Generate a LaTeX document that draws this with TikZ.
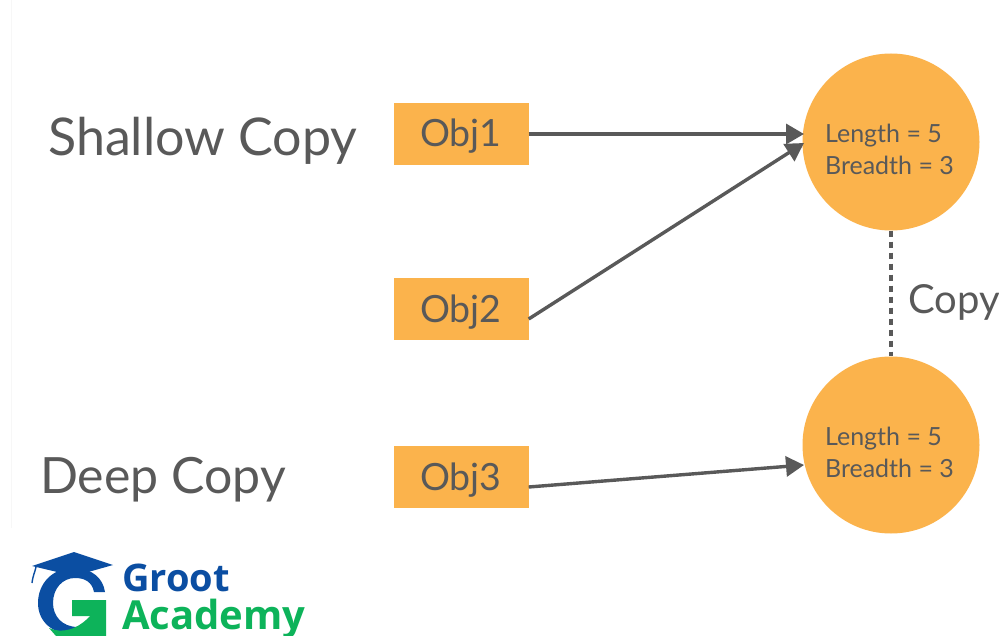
\documentclass[tikz,border=0pt]{standalone}
\usepackage{fontspec}
\setmainfont{Lato}
\newfontfamily\logofont{Open Sans}
\usetikzlibrary{arrows.meta}
\definecolor{orangefill}{HTML}{FBB34C}
\definecolor{inkgrey}{HTML}{595959}
\definecolor{logoblue}{HTML}{0B4EA2}
\definecolor{logogreen}{HTML}{0DB35A}
\tikzset{
  objbox/.style={fill=orangefill,minimum width=135pt,minimum height=62pt,inner sep=0pt,text=inkgrey,font=\fontsize{37.5}{37.5}\selectfont},
  circ/.style={circle,fill=orangefill,minimum size=177pt,inner sep=0pt},
  circtext/.style={text=inkgrey,inner sep=0pt,font=\fontsize{25}{32}\selectfont,align=left},
  lbl/.style={text=inkgrey,inner sep=0pt,anchor=west},
  conn/.style={draw=inkgrey,line width=3.4pt,-{Triangle[length=18pt,width=20pt]}},
}
\begin{document}
\begin{tikzpicture}[x=1pt,y=-1pt]
\useasboundingbox (0,0) rectangle (999,636);
\clip (0,0) rectangle (999,636);
\fill[white] (0,0) rectangle (999,636);
\draw[black!3,line width=0.8pt] (11,0) -- (11,528);
\node[objbox] (o1) at (461,134.5) {\raisebox{-12.5pt}[0pt][0pt]{Obj1}};
\node[objbox] (o2) at (461,309) {\raisebox{-14pt}[0pt][0pt]{Obj2}};
\node[objbox] (o3) at (461,476.5) {\raisebox{-13.5pt}[0pt][0pt]{Obj3}};
\node[circ] (c1) at (891,142) {};
\node[circ] (c2) at (891,445) {};
\node[circtext] (c1t) at (889.5,149) {Length = 5\\Breadth = 3};
\node[circtext] (c2t) at (889.5,452) {Length = 5\\Breadth = 3};
\coordinate (t1) at (804,134);
\coordinate (t2) at (804,143);
\coordinate (t3) at (804,465);
\draw[conn] (o1.east |- 0,134) -- (t1);
\draw[conn] (o2.east |- 0,319) -- (t2);
\draw[conn] (o3.east |- 0,487) -- (t3);
\draw[inkgrey,line width=3.4pt,dash pattern=on 6pt off 5pt] (c1.south) -- (c2.north);
\node[lbl,font=\fontsize{52}{52}\selectfont] (s) at (48,141) {Shallow Copy};
\node[lbl,font=\fontsize{50}{50}\selectfont] (d) at (40,480) {Deep Copy};
\node[lbl,font=\fontsize{40}{40}\selectfont] (cp) at (908,302) {Copy};
% logo
\fill[logoblue] (32,566) -- (74,552) -- (113,565) -- (74,576) -- cycle;
\draw[logoblue,line width=1.4pt] (36,567) .. controls (35,572) and (33,575) .. (32,583);
\fill[logoblue] (105,592)
  .. controls (103,578) and (92,569) .. (76,568)
  .. controls (52,567) and (38,584) .. (38,603)
  .. controls (38,622) and (53,634) .. (72,634)
  -- (78,627)
  .. controls (62,627) and (53,616) .. (53,603)
  .. controls (53,588) and (63,578) .. (75,578)
  .. controls (85,578) and (92,582) .. (94,592) -- cycle;
\fill[logogreen] (72,600) -- (106,600) -- (106,636) -- (90,636) -- (90,616) -- (72,616) -- cycle;
\fill[logogreen] (49,628) .. controls (62,634) and (78,630) .. (92,614) -- (92,636) -- (56,636) -- cycle;
\node[lbl,text=logoblue,font=\logofont\bfseries\fontsize{38}{38}\selectfont] (g) at (122,578) {Groot};
\node[lbl,text=logogreen,font=\logofont\bfseries\fontsize{40}{40}\selectfont] (a) at (122,619) {Academy};
\end{tikzpicture}
\end{document}
